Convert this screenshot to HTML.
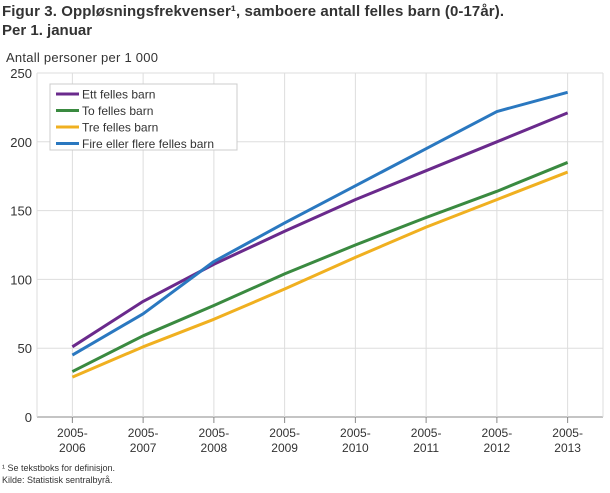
<!DOCTYPE html>
<html><head><meta charset="utf-8"><style>
body{margin:0;background:#fff;font-family:"Liberation Sans",sans-serif;}
</style></head><body>
<svg width="610" height="488" xmlns="http://www.w3.org/2000/svg" font-family="Liberation Sans, sans-serif">
<text x="2" y="16" font-size="15" font-weight="bold" fill="#333" textLength="502">Figur 3. Oppløsningsfrekvenser¹, samboere antall felles barn (0-17år).</text>
<text x="2" y="35" font-size="15" font-weight="bold" fill="#333">Per 1. januar</text>
<text x="6" y="62" font-size="13" fill="#333" textLength="152">Antall personer per 1 000</text>
<g id="grid"></g>
<g id="marks"></g>
<g>
<rect x="50" y="84" width="187" height="66" fill="#fff" stroke="#ccc"/>
<g id="legend"></g>
</g>
<text x="2" y="471" font-size="9" fill="#333">¹ Se tekstboks for definisjon.</text>
<text x="2" y="483" font-size="9" fill="#333">Kilde: Statistisk sentralbyrå.</text>
</svg>
<script>
const categories=["2005-2006","2005-2007","2005-2008","2005-2009","2005-2010","2005-2011","2005-2012","2005-2013"];
const yTicks=[0,50,100,150,200,250];
const seriesNames=["Ett felles barn","To felles barn","Tre felles barn","Fire eller flere felles barn"];
const seriesColors=["#6a2a8c","#3a8a40","#f0b020","#2a78c0"];
const ett=[51,84,111,135,158,179,200,221];
const to=[33,59,81,104,125,145,164,185];
const tre=[29,51,71,93,116,138,158,178];
const fire=[45,75,113,141,168,195,222,236];
const series=[ett,to,tre,fire];
const NS="http://www.w3.org/2000/svg";
const L=37,R=603,T=73,B=417;
const band=(R-L)/categories.length;
const x=i=>L+band*(i+0.5);
const y=v=>B-(v/250)*(B-T);
function mk(t,a,p){const e=document.createElementNS(NS,t);for(const k in a)e.setAttribute(k,a[k]);p.appendChild(e);return e;}
const g=document.getElementById('grid');
yTicks.forEach(v=>{
 const l=mk('line',{x1:L,x2:R,y1:y(v),y2:y(v),stroke:v===0?'#888':'#ddd','stroke-width':1},g);
 
 
 const t=mk('text',{x:32,y:y(v)+5,'text-anchor':'end','font-size':13,fill:'#333'},g);
 t.textContent=v;
 
 
});
mk('line',{x1:L,x2:L,y1:T,y2:B,stroke:'#ddd'},g);
mk('line',{x1:R,x2:R,y1:T,y2:B,stroke:'#ddd'},g);
categories.forEach((c,i)=>{
 const l=mk('line',{x1:x(i),x2:x(i),y1:T,y2:B,stroke:'#ddd'},g);
 
 
 mk('line',{x1:x(i),x2:x(i),y1:B,y2:B+6,stroke:'#888'},g);
 const p=c.split('-');
 const t1=mk('text',{x:x(i),y:B+20,'text-anchor':'middle','font-size':12,fill:'#333'},g);
 t1.textContent=p[0]+'-';
 
 
 const t2=mk('text',{x:x(i),y:B+35,'text-anchor':'middle','font-size':12,fill:'#333'},g);
 t2.textContent=p[1];
 
 
});
const m=document.getElementById('marks');
series.forEach((s,k)=>{
 const pl=mk('polyline',{points:s.map((v,i)=>x(i)+','+y(v)).join(' '),fill:'none',stroke:seriesColors[k],'stroke-width':3,'stroke-linejoin':'round'},m);
 
 
});
const lg=document.getElementById('legend');
seriesNames.forEach((n,k)=>{
 const yy=94+k*16.5;
 mk('line',{x1:56,x2:79,y1:yy,y2:yy,stroke:seriesColors[k],'stroke-width':3},lg);
 const t=mk('text',{x:82,y:yy+4.5,'font-size':12,fill:'#333'},lg);
 t.textContent=n;
 
 
});
</script>
</body></html>
